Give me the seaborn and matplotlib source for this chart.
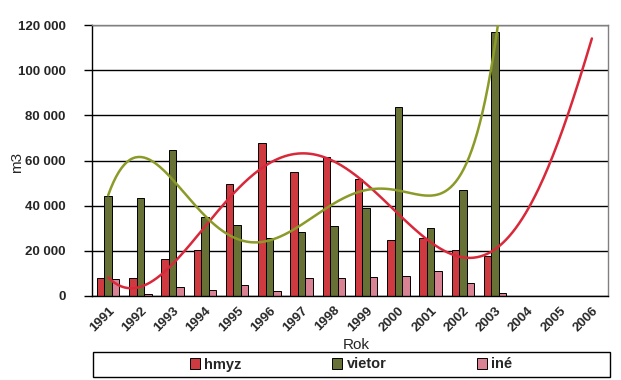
import numpy as np
import pandas as pd
import seaborn as sns
import matplotlib.pyplot as plt
from matplotlib.patches import Rectangle

# hodnoty odcitane z grafu (m3)
roky = [str(r) for r in range(1991, 2007)]
roky_data = roky[:13]
hmyz = [8000, 8000, 16400, 20300, 49600, 67600, 54800, 61400, 51700, 24800, 25700, 20200, 17700]
vietor = [44100, 43200, 64500, 34800, 31300, 25800, 28200, 30800, 38800, 83500, 30000, 46800, 116800]
ine = [7400, 700, 3800, 2500, 4900, 2100, 7800, 7800, 8400, 8800, 10900, 5600, 1200]
# polynomicke trendy z Excelu - hodnoty odcitane v stredoch rokov
trend_hmyz = [8600, 3000, 14500, 31500, 47800, 57400, 62300, 60500, 50600, 35000,
              24800, 17300, 20000, 37500, 71000, 113700]
trend_vietor = [44500, 61800, 51500, 34800, 26300, 24700, 30700, 41300, 47200, 46500,
                44500, 55500, 111500]
typy = ['hmyz', 'vietor', 'iné']
farby = ['#E8212B', '#6E7B2C', '#E7738C']
yticks = [0, 20000, 40000, 60000, 80000, 100000, 120000]

df = pd.DataFrame({
    'Rok': roky_data * 3,
    'typ': ['hmyz'] * 13 + ['vietor'] * 13 + ['iné'] * 13,
    'm3': hmyz + vietor + ine,
})

sns.set_style('white')
plt.rcParams['font.family'] = ['Liberation Sans', 'DejaVu Sans']

fig = plt.figure(figsize=(6.21, 3.80), dpi=100)
ax = fig.add_axes([92 / 621, 1 - 296 / 380, 516 / 621, 271 / 380])

sns.barplot(data=df, x='Rok', y='m3', hue='typ', order=roky, hue_order=typy,
            palette=farby, width=0.7, edgecolor='black', linewidth=0.7, ax=ax)

# hladke krivky trendov
xh = np.arange(len(trend_hmyz))
xs_h = np.linspace(0, xh[-1], 300)
ax.plot(xs_h, np.polyval(np.polyfit(xh, trend_hmyz, 6), xs_h), color='#D8283A', lw=1.8, zorder=5)
xv = np.arange(len(trend_vietor))
xs_v = np.linspace(0, 12.4, 300)
ax.plot(xs_v, np.polyval(np.polyfit(xv, trend_vietor, 6), xs_v), color='#8C9A28', lw=1.8, zorder=5)

ax.set_xlim(-0.5, 15.5)
ax.set_ylim(0, 120000)
ax.set_yticks(yticks)
ax.set_yticklabels([f'{v:,}'.replace(',', ' ') for v in yticks], fontweight='bold', fontsize=9.5)
ax.grid(axis='y', color='black', lw=1)
ax.set_axisbelow(True)

ax.set_xticks(range(16))
ax.set_xticklabels(roky, rotation=45, ha='right', rotation_mode='anchor',
                   fontweight='bold', fontsize=9.5)
ax.set_xticks(np.arange(-0.5, 16, 1), minor=True)
ax.tick_params(axis='x', which='major', length=0, pad=6)
ax.tick_params(axis='x', which='minor', length=4, color='black', width=1)
ax.tick_params(axis='y', length=6, color='black', width=1, left=True, pad=13)

for s in ['left', 'bottom']:
    ax.spines[s].set_color('black')
    ax.spines[s].set_linewidth(1)
for s in ['top', 'right']:
    ax.spines[s].set_color('#808080')
    ax.spines[s].set_linewidth(1)

ax.set_xlabel('')
ax.set_ylabel('')
fig.text(17 / 621, 1 - 162 / 380, 'm3', rotation=90, ha='center', va='center', fontsize=11)
fig.text(356 / 621, 1 - 345 / 380, 'Rok', ha='center', va='center', fontsize=11)

handles, labels = ax.get_legend_handles_labels()
ax.get_legend().remove()
fig.legend(handles, labels, loc='center', bbox_to_anchor=(351 / 621, 1 - 364.5 / 380),
           ncol=3, frameon=False, columnspacing=6.2, handlelength=0.7, handleheight=0.7,
           handletextpad=0.3, prop={'weight': 'bold', 'size': 10.5})
fig.patches.append(Rectangle((93 / 621, 3 / 380), 517 / 621, 25 / 380,
                             transform=fig.transFigure, fill=False, edgecolor='black', lw=1))

fig.savefig('out.png', dpi=100)
